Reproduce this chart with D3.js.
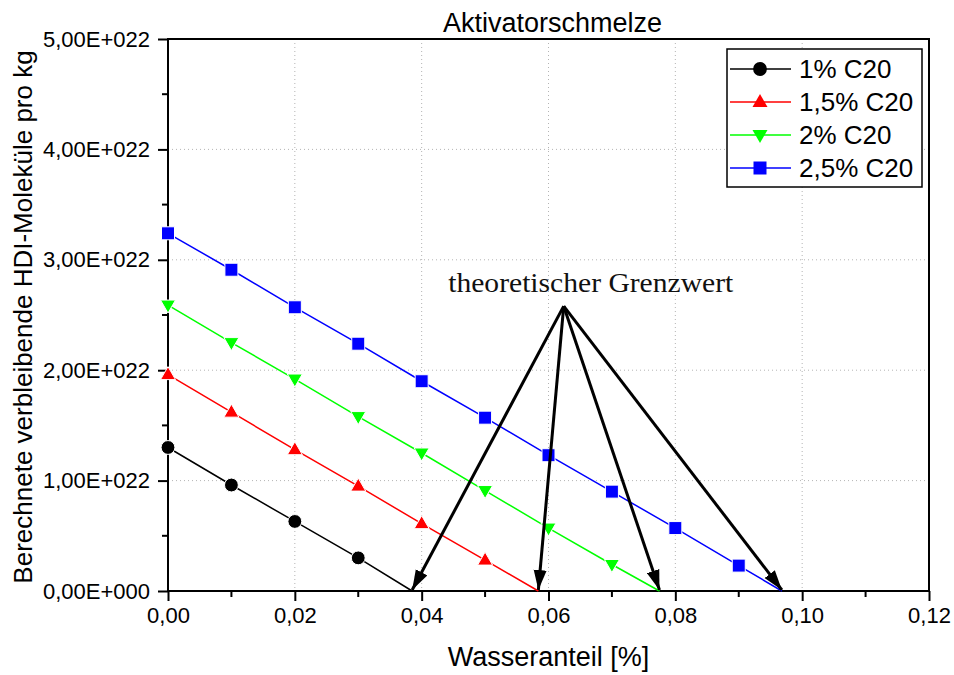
<!DOCTYPE html>
<html>
<head>
<meta charset="utf-8">
<script src="https://cdn.jsdelivr.net/npm/d3@7"></script>
<style>
  body { margin: 0; background: #fff; }
  text { font-family: Arial, "Liberation Sans", sans-serif; }
</style>
</head>
<body>
<div id="chart"></div>
<script>
// water content [%] at which points were computed
var water = [0, 0.01, 0.02, 0.03, 0.04, 0.05, 0.06, 0.07, 0.08, 0.09];
// remaining HDI molecules per kg, in units of 1E+022
var c1 = [1.30, 0.96, 0.63, 0.30];
var c15 = [1.96, 1.62, 1.28, 0.95, 0.61, 0.28];
var c2 = [2.59, 2.25, 1.92, 1.58, 1.25, 0.91, 0.57, 0.24];
var c25 = [3.24, 2.91, 2.57, 2.24, 1.90, 1.57, 1.23, 0.90, 0.57, 0.23];
// x where each line reaches zero
var zeroX = [0.0385, 0.0584, 0.0775, 0.0968];
var names = ["1% C20", "1,5% C20", "2% C20", "2,5% C20"];
var colors = ["#000000", "#ff0000", "#00ff00", "#0000ff"];
var shapes = ["circle", "triUp", "triDown", "square"];
// annotation: arrows start here
var apex = [0.0624, 2.58];
var xTicks = [0, 0.02, 0.04, 0.06, 0.08, 0.10, 0.12];
var yTicks = [0, 1, 2, 3, 4, 5];

(function () {
    var width = 954, height = 675;
    var left = 168, right = 929, top = 39, bottom = 591;

    var svg = d3.select("#chart").append("svg")
        .attr("width", width).attr("height", height);

    var x = d3.scaleLinear().domain([0, 0.12]).range([left, right]);
    var y = d3.scaleLinear().domain([0, 5]).range([bottom, top]);

    // grid
    var grid = svg.append("g").attr("stroke", "#b4b4b4").attr("stroke-width", 1)
        .attr("stroke-dasharray", "1,3");
    grid.selectAll("line.gx").data(xTicks.slice(1, -1)).enter().append("line")
        .attr("x1", d => x(d)).attr("x2", d => x(d))
        .attr("y1", top).attr("y2", bottom);
    grid.selectAll("line.gy").data(yTicks.slice(1, -1)).enter().append("line")
        .attr("x1", left).attr("x2", right)
        .attr("y1", d => y(d)).attr("y2", d => y(d));

    // frame
    svg.append("rect").attr("x", left).attr("y", top)
        .attr("width", right - left).attr("height", bottom - top)
        .attr("fill", "none").attr("stroke", "#000").attr("stroke-width", 2);

    // axes
    var xAxis = d3.axisBottom(x).tickValues(xTicks).tickSize(10).tickPadding(6)
        .tickFormat(d => d3.format(".2f")(d).replace(".", ","));
    var gx = svg.append("g").attr("transform", "translate(0," + bottom + ")").call(xAxis);
    gx.select(".domain").remove();
    gx.selectAll(".tick line").attr("stroke-width", 2);
    gx.selectAll("text").attr("font-size", 22).attr("fill", "#000");
    svg.append("g").selectAll("line").data(d3.range(0.01, 0.12, 0.02)).enter().append("line")
        .attr("x1", d => x(d)).attr("x2", d => x(d))
        .attr("y1", bottom).attr("y2", bottom + 6)
        .attr("stroke", "#000").attr("stroke-width", 2);

    var yAxis = d3.axisLeft(y).tickValues(yTicks).tickSize(10).tickPadding(8)
        .tickFormat(d => d === 0 ? "0,00E+000" : d3.format(".2f")(d).replace(".", ",") + "E+022");
    var gy = svg.append("g").attr("transform", "translate(" + left + ",0)").call(yAxis);
    gy.select(".domain").remove();
    gy.selectAll(".tick line").attr("stroke-width", 2);
    gy.selectAll("text").attr("font-size", 22).attr("fill", "#000");
    svg.append("g").selectAll("line").data(d3.range(0.5, 5, 1)).enter().append("line")
        .attr("x1", left - 6).attr("x2", left)
        .attr("y1", d => y(d)).attr("y2", d => y(d))
        .attr("stroke", "#000").attr("stroke-width", 2);

    // labels
    svg.append("text").attr("x", (left + right) / 2 + 4).attr("y", 32)
        .attr("text-anchor", "middle").attr("font-size", 27).text("Aktivatorschmelze");
    svg.append("text").attr("x", (left + right) / 2).attr("y", 666)
        .attr("text-anchor", "middle").attr("font-size", 27).text("Wasseranteil [%]");
    svg.append("text").attr("transform", "translate(32," + ((top + bottom) / 2 + 2) + ") rotate(-90)")
        .attr("text-anchor", "middle").attr("font-size", 26)
        .text("Berechnete verbleibende HDI-Moleküle pro kg");

    function markerPath(shape) {
        if (shape === "circle") return d3.symbol(d3.symbolCircle, 150)();
        if (shape === "square") return "M-6.5,-6.5H6.5V6.5H-6.5Z";
        if (shape === "triUp") return "M0,-8L7.5,5L-7.5,5Z";
        return "M0,8L7.5,-5L-7.5,-5Z";
    }

    var series = [c1, c15, c2, c25];
    var line = d3.line().x(d => x(d[0])).y(d => y(d[1]));

    series.forEach(function (vals, i) {
        var pts = vals.map((v, j) => [water[j], v]);
        var g = svg.append("g");
        g.append("path").datum(pts.concat([[zeroX[i], 0]]))
            .attr("d", line).attr("fill", "none")
            .attr("stroke", colors[i]).attr("stroke-width", 1.5);
        g.selectAll("path.m").data(pts).enter().append("path")
            .attr("transform", d => "translate(" + x(d[0]) + "," + y(d[1]) + ")")
            .attr("d", markerPath(shapes[i]))
            .attr("fill", colors[i]).attr("stroke", "#fff").attr("stroke-width", 1);
    });

    // arrows
    svg.append("defs").append("marker").attr("id", "head")
        .attr("markerUnits", "userSpaceOnUse").attr("viewBox", "0 -7 20 14")
        .attr("refX", 20).attr("refY", 0)
        .attr("markerWidth", 20).attr("markerHeight", 14).attr("orient", "auto")
        .append("path").attr("d", "M0,-6.5L20,0L0,6.5Z").attr("fill", "#000");
    svg.append("g").selectAll("line").data(zeroX).enter().append("line")
        .attr("x1", x(apex[0])).attr("y1", y(apex[1]))
        .attr("x2", d => x(d)).attr("y2", y(0) - 1)
        .attr("stroke", "#000").attr("stroke-width", 3)
        .attr("marker-end", "url(#head)");

    svg.append("text").attr("x", x(apex[0]) + 27).attr("y", y(apex[1]) - 14)
        .attr("text-anchor", "middle").attr("font-size", 27)
        .style("font-family", "'Liberation Serif', 'DejaVu Serif', serif")
        .attr("textLength", 285).attr("lengthAdjust", "spacingAndGlyphs")
        .attr("fill", "#111")
        .text("theoretischer Grenzwert");

    // legend
    var lg = svg.append("g");
    lg.append("rect").attr("x", 727).attr("y", 49).attr("width", 195).attr("height", 138)
        .attr("fill", "#fff").attr("stroke", "#000").attr("stroke-width", 1.5);
    names.forEach(function (n, i) {
        var cy = 69 + i * 33;
        lg.append("line").attr("x1", 730).attr("x2", 791).attr("y1", cy).attr("y2", cy)
            .attr("stroke", colors[i]).attr("stroke-width", 1.5);
        lg.append("path").attr("transform", "translate(760," + cy + ")")
            .attr("d", markerPath(shapes[i])).attr("fill", colors[i]);
        lg.append("text").attr("x", 799).attr("y", cy + 9).attr("font-size", 26).text(n);
    });
})();
</script>
</body>
</html>
